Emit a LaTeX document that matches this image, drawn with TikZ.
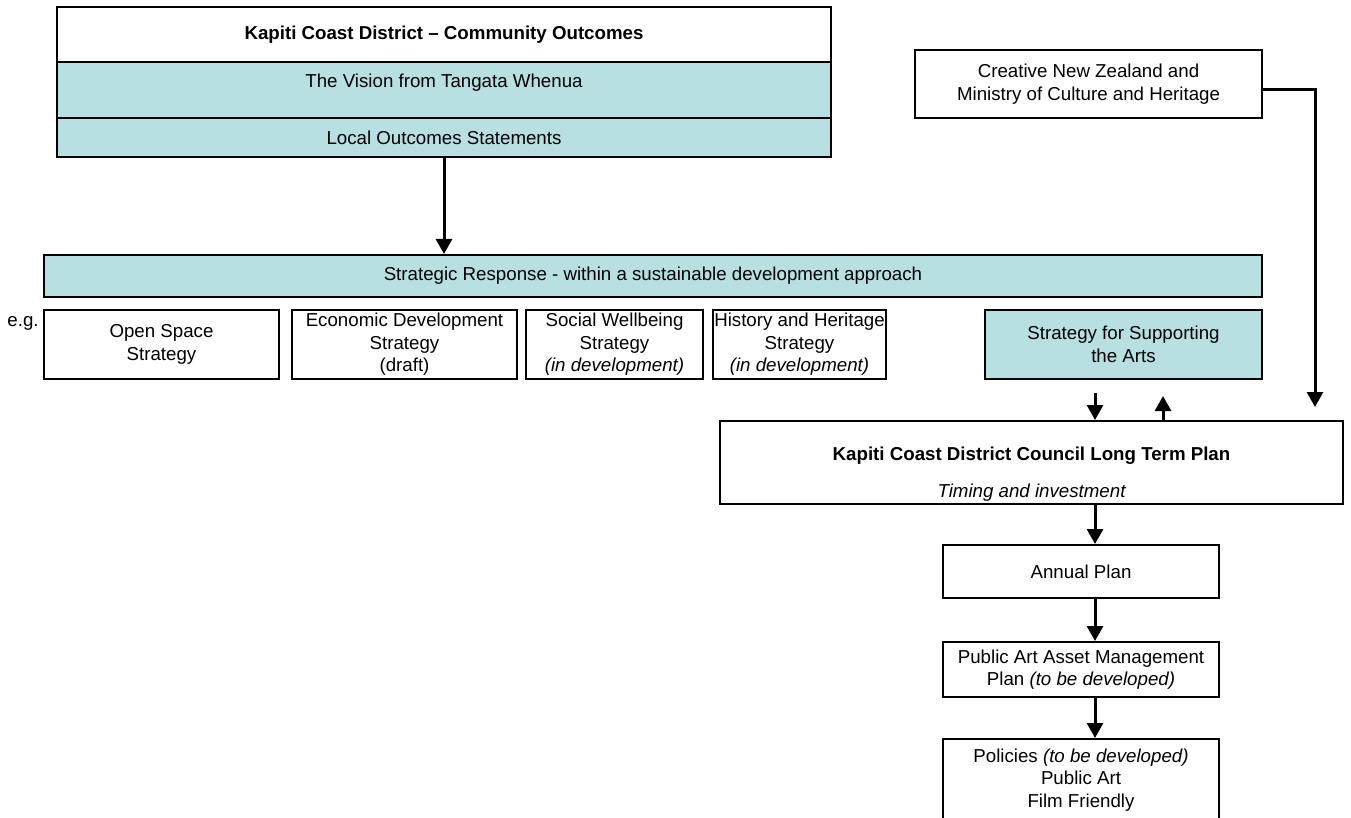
\documentclass[tikz,border=0pt]{standalone}
\usepackage{fontspec}
\setmainfont{Liberation Sans}
\usepackage{tikz}
\usetikzlibrary{arrows.meta,positioning}
\definecolor{tealfill}{RGB}{184,223,226}

\begin{document}
\begin{tikzpicture}[x=1pt, y=-1pt,
	box/.style={draw, line width=2pt, align=center, inner xsep=1pt, inner ysep=2pt, font=\fontsize{18.7}{22.5}\selectfont},
	tealbox/.style={box, fill=tealfill},
	flow/.style={line width=3pt, -{Triangle[length=15pt,width=16pt]}}]
	\useasboundingbox (0,0) rectangle (1351,818);
	%\draw [help lines, step=50] (0,0) grid (1351,818);
	%Esiti della comunita
	\node [box, minimum width=774pt, minimum height=55pt] (outcomes) at (444,34.5) {\bfseries Kapiti Coast District -- Community Outcomes};
	\node [tealbox, minimum width=774pt, minimum height=56pt, text depth=18pt] (vision) at (444,90) {The Vision from Tangata Whenua};
	\node [tealbox, minimum width=774pt, minimum height=39pt] (local) at (444,137.5) {Local Outcomes Statements};
	%Risposta strategica
	\node [tealbox, minimum width=1218pt, minimum height=42pt] (strategic) at (653,276) {Strategic Response - within a sustainable development approach};
	\draw [flow] (local.south) -- (local.south |- strategic.north);
	%Strategie
	\node [font=\fontsize{18.7}{22.5}\selectfont, inner sep=0pt] (eg) at (23,323) {e.g.};
	\node [box, minimum width=235pt, minimum height=69pt] (openspace) at (161.5,344.5) {Open Space\\Strategy};
	\node [box, minimum width=225pt, minimum height=69pt] (economic) at (404.5,344.5) {Economic Development\\Strategy\\(draft)};
	\node [box, minimum width=177pt, minimum height=69pt] (social) at (614.5,344.5) {Social Wellbeing\\Strategy\\\textit{(in development)}};
	\node [box, minimum width=173pt, minimum height=69pt] (history) at (799.5,344.5) {History and Heritage\\Strategy\\\textit{(in development)}};
	\node [tealbox, minimum width=277pt, minimum height=69pt] (arts) at (1123.5,344.5) {Strategy for Supporting\\the Arts};
	%Creative NZ
	\node [box, minimum width=347pt, minimum height=68pt] (creative) at (1088.5,84) {Creative New Zealand and\\Ministry of Culture and Heritage};
	\coordinate (cnzend) at (1315,407);
	\draw [flow] ([yshift=-6pt]creative.east) -| (cnzend);
	%Piano a lungo termine
	\node [box, minimum width=623pt, minimum height=83pt] (ltp) at (1031.5,462.5) {};
	\node [font=\fontsize{18.7}{22.5}\selectfont\bfseries] (ltptitle) at (1031.5,456) {Kapiti Coast District Council Long Term Plan};
	\node [font=\fontsize{18.7}{22.5}\selectfont\itshape, above=0pt of ltp.south] (ltpnote) {Timing and investment};
	\coordinate (spine) at (1095,0);
	\coordinate (upline) at (1163,0);
	\draw [flow, shorten <=13pt] (arts.south -| spine) -- (ltp.north -| spine);
	\draw [flow, shorten >=16pt] (ltp.north -| upline) -- (arts.south -| upline);
	%Piani e politiche
	\node [box, minimum width=276pt, minimum height=53pt] (annual) at (1081,571.5) {Annual Plan};
	\node [box, minimum width=276pt, minimum height=55pt] (assets) at (1081,669.5) {Public Art Asset Management\\Plan \textit{(to be developed)}};
	\node [box, minimum width=276pt, minimum height=82pt] (policies) at (1081,780) {Policies \textit{(to be developed)}\\Public Art\\Film Friendly};
	\draw [flow] (ltp.south -| spine) -- (annual.north -| spine);
	\draw [flow] (annual.south -| spine) -- (assets.north -| spine);
	\draw [flow] (assets.south -| spine) -- (policies.north -| spine);
\end{tikzpicture}
\end{document}
